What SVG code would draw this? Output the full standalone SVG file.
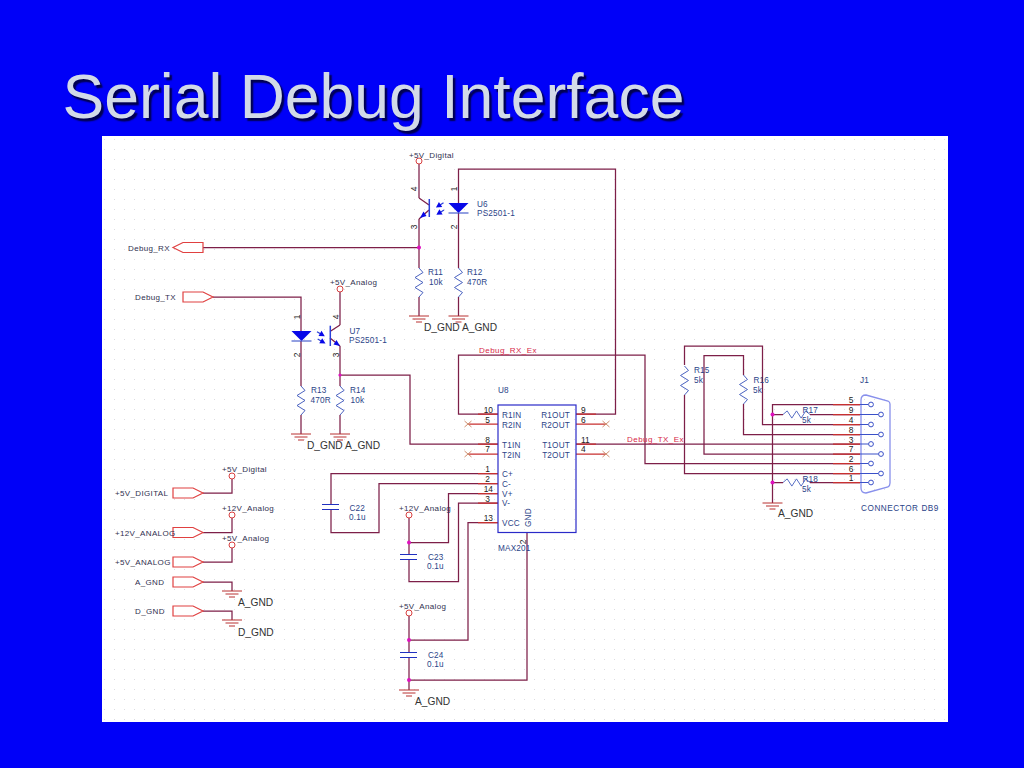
<svg xmlns="http://www.w3.org/2000/svg" width="1024" height="768" viewBox="0 0 1024 768">
<style>
text{font-family:"Liberation Sans",Arial,sans-serif}
.t{font-size:8px;fill:#303050;letter-spacing:.35px}
.b{font-size:8.2px;fill:#2b4488;letter-spacing:.2px}
.p{font-size:8.4px;fill:#222}
.g{font-size:10.2px;fill:#333}
.r{font-size:8px;fill:#d82848;letter-spacing:.45px}
.w{fill:none;stroke:#7d1f48;stroke-width:1.25}
.s{fill:none;stroke:#c83030;stroke-width:1.25}
.bl{fill:none;stroke:#3a50c8;stroke-width:1.1}
.x{fill:none;stroke:#d09070;stroke-width:1}
.res{fill:none;stroke:#4a62c0;stroke-width:1}
.j{fill:#e010c0}
.pw{fill:none;stroke:#d84040;stroke-width:1}
.gn{fill:none;stroke:#b83030;stroke-width:1}
.port{fill:#fff;stroke:#e04040;stroke-width:1.2}
.cap{fill:none;stroke:#2030c0;stroke-width:1.2}
.d{fill:#0808e8;stroke:none}
.title{font-size:62.5px;fill:#d2dae8;text-shadow:2.5px 2.5px 1.5px #000050}
</style>
<defs>
<pattern id="dots" x="104" y="139" width="10" height="10" patternUnits="userSpaceOnUse"><rect width="1" height="1" fill="#dcdce2"/></pattern>
<path id="res" class="res" d="M0 0L4 4.5L-4 9.5L4 14.5L-4 19.5L4 24.5L0 29"/>
<path id="gnd" class="gn" d="M-10 0H10M-6.5 3H6.5M-3 6H3"/>
<path id="prt" class="port" d="M0-5H20L30 0L20 5H0Z"/>
<circle id="pwr" class="pw" r="3"/>
<path id="capa" class="cap" d="M-8.5 0H8.5M-8.5 5H8.5"/>
<path id="xm" class="x" d="M-3.5-3L3.5 3M-3.5 3L3.5-3"/>
<g id="led"><path class="d" d="M-10 0H10L0 10Z"/><path class="bl" d="M-10 10H10"/></g>
<g id="ph"><path d="M0 0H6" fill="none" stroke="#2a3fd8" stroke-width="1.3"/><path class="d" d="M9 0L3.5-3L3.5 3Z"/></g>
</defs>
<rect width="1024" height="768" fill="#0000f8"/>
<rect x="102" y="136" width="846" height="586" fill="#fff"/>
<rect x="102" y="136" width="846" height="586" fill="url(#dots)"/>
<text class="title" x="62.5" y="118">Serial Debug Interface</text>

<g id="connectors">
<path class="w" d="M203 247.5H419M419 164V198M419 219V268M419 297V316"/>
<path class="w" d="M458.5 203V169H615.5V414H576M458.5 213V268M458.5 297V316"/>
<path class="w" d="M213 297H301V331M301 341V386M301 415V434"/>
<path class="w" d="M340 292V325M340 346V386M340 415V434M340 375H410V444H498"/>
<path class="w" d="M498 414H458.5V355H645V463.5H860"/>
<path class="w" d="M576 444H860"/>
<path class="w" d="M498 473.5H331V504M331 510V532.5H379V483.5H498"/>
<path class="w" d="M409 518V554M409 559V581.5H458.5V503H498M409 542.5H448.5V493.5H498"/>
<path class="w" d="M409 616V652M409 657V690M409 640H468V522.5H498M409 680H527V532"/>
<path class="w" d="M203 493H232V479M203 532.5H232V518M203 562H232V548M203 582H232V591M203 611H232V620"/>
<path class="w" d="M684.5 365V346H762.5V424.5H860M684.5 395V473.5H860M743.5 375V355.5H704V454H860M743.5 404V434.5H860"/>
<path class="w" d="M860 404.5H772.5V503M772.5 414.5H783M810 414.5H860M772.5 482.5H783M810 482.5H860"/>
<path class="s" d="M478 414H498M478 424H498M478 444H498M478 454H498M478 473.5H498M478 483.5H498M478 493.5H498M478 503H498M478 522.5H498M576 414H596M576 424H596M576 444H596M576 454H596M833 404.5H860M833 414.5H860M833 424.5H860M833 434.5H860M833 444H860M833 454H860M833 463.5H860M833 473.5H860M833 482.5H860"/>
<path class="s" d="M468 424H478M468 454H478M596 424H606M596 454H606"/>
<circle class="j" cx="419" cy="247.5" r="2"/>
<circle class="j" cx="340" cy="375" r="1.6"/>
<circle class="j" cx="409" cy="542.5" r="2"/>
<circle class="j" cx="409" cy="640" r="2"/>
<circle class="j" cx="409" cy="680" r="2"/>
<circle class="j" cx="772.5" cy="414.5" r="2"/>
<circle class="j" cx="772.5" cy="482.5" r="2"/>
</g>

<g id="Debug_RX"><use href="#prt" transform="translate(203 247.5) scale(-1 1)"/><text class="t" x="128" y="251">Debug_RX</text></g>
<g id="Debug_TX"><use href="#prt" transform="translate(183 297)"/><text class="t" x="135" y="300">Debug_TX</text></g>
<g id="P5V_DIGITAL"><use href="#prt" transform="translate(173 493)"/><text class="t" x="115" y="496">+5V_DIGITAL</text></g>
<g id="P12V_ANALOG"><use href="#prt" transform="translate(173 532.5)"/><text class="t" x="115" y="535.5">+12V_ANALOG</text></g>
<g id="P5V_ANALOG"><use href="#prt" transform="translate(173 562)"/><text class="t" x="115" y="565">+5V_ANALOG</text></g>
<g id="A_GND_port"><use href="#prt" transform="translate(173 582)"/><text class="t" x="135" y="585">A_GND</text></g>
<g id="D_GND_port"><use href="#prt" transform="translate(173 611)"/><text class="t" x="135" y="614">D_GND</text></g>

<g id="pwr_u6"><use href="#pwr" x="419" y="161"/><text class="t" x="409" y="158">+5V_Digital</text></g>
<g id="pwr_u7"><use href="#pwr" x="340" y="289"/><text class="t" x="330" y="285">+5V_Analog</text></g>
<g id="pwr_a"><use href="#pwr" x="232" y="476"/><text class="t" x="222" y="472">+5V_Digital</text></g>
<g id="pwr_b"><use href="#pwr" x="232" y="515"/><text class="t" x="222" y="511">+12V_Analog</text></g>
<g id="pwr_c"><use href="#pwr" x="232" y="545"/><text class="t" x="222" y="541">+5V_Analog</text></g>
<g id="pwr_d"><use href="#pwr" x="409" y="515"/><text class="t" x="399" y="511">+12V_Analog</text></g>
<g id="pwr_e"><use href="#pwr" x="409" y="613"/><text class="t" x="399" y="609">+5V_Analog</text></g>

<g id="U6">
<path class="w" d="M419 198L429 205M429 210L419 219"/>
<path d="M429.3 199V217" fill="none" stroke="#2a3fd8" stroke-width="1.5"/>
<path class="d" d="M420 218L426.5 216L423.5 211.5Z"/>
<use href="#ph" transform="translate(443.5 202.7) rotate(147)"/><use href="#ph" transform="translate(444 210) rotate(148)"/>
<use href="#led" x="458.5" y="203"/>
<text class="b" x="477" y="206.5">U6</text><text class="b" x="477" y="215.5">PS2501-1</text>
<text class="p" transform="translate(417 189) rotate(-90)" text-anchor="middle">4</text>
<text class="p" transform="translate(417 227) rotate(-90)" text-anchor="middle">3</text>
<text class="p" transform="translate(457 189) rotate(-90)" text-anchor="middle">1</text>
<text class="p" transform="translate(457 227) rotate(-90)" text-anchor="middle">2</text>
</g>
<g id="U7">
<use href="#led" x="301.5" y="331"/>
<path class="w" d="M340 325L330 331.5M330 338L340 346"/>
<path d="M330.3 325.7V346" fill="none" stroke="#2a3fd8" stroke-width="1.5"/>
<path class="d" d="M340 346L333.5 344.5L336.5 340Z"/>
<use href="#ph" transform="translate(317 331.7) rotate(30)"/><use href="#ph" transform="translate(317.7 339) rotate(30)"/>
<text class="b" x="349.5" y="334">U7</text><text class="b" x="349" y="343">PS2501-1</text>
<text class="p" transform="translate(299.5 317) rotate(-90)" text-anchor="middle">1</text>
<text class="p" transform="translate(299.5 355) rotate(-90)" text-anchor="middle">2</text>
<text class="p" transform="translate(338.5 317) rotate(-90)" text-anchor="middle">4</text>
<text class="p" transform="translate(338.5 355) rotate(-90)" text-anchor="middle">3</text>
</g>

<g id="R11"><use href="#res" x="419" y="268"/><text class="b" x="428" y="275">R11</text><text class="b" x="429" y="285">10k</text></g>
<g id="R12"><use href="#res" x="458.5" y="268"/><text class="b" x="467" y="275">R12</text><text class="b" x="467" y="285">470R</text></g>
<g id="R13"><use href="#res" x="301" y="386"/><text class="b" x="311" y="393">R13</text><text class="b" x="310.5" y="403">470R</text></g>
<g id="R14"><use href="#res" x="340" y="386"/><text class="b" x="350" y="393">R14</text><text class="b" x="350.5" y="403">10k</text></g>
<g id="R15"><use href="#res" x="684.5" y="366"/><text class="b" x="694" y="373">R15</text><text class="b" x="694" y="383">5k</text></g>
<g id="R16"><use href="#res" x="743.5" y="375"/><text class="b" x="753.5" y="383">R16</text><text class="b" x="753" y="393">5k</text></g>
<g id="R17"><use href="#res" transform="translate(783 414.5) rotate(-90) scale(.9 .93)"/><text class="b" x="802.5" y="413">R17</text><text class="b" x="802" y="423">5k</text></g>
<g id="R18"><use href="#res" transform="translate(783 482.5) rotate(-90) scale(.9 .93)"/><text class="b" x="802.5" y="481.5">R18</text><text class="b" x="802" y="491.5">5k</text></g>

<g id="C22"><use href="#capa" x="330.5" y="504.5"/><text class="b" x="349.5" y="511">C22</text><text class="b" x="349" y="520">0.1u</text></g>
<g id="C23"><use href="#capa" x="408.5" y="554.5"/><text class="b" x="428" y="560">C23</text><text class="b" x="427" y="569">0.1u</text></g>
<g id="C24"><use href="#capa" x="408.5" y="652.5"/><text class="b" x="428" y="658">C24</text><text class="b" x="427" y="667">0.1u</text></g>

<g id="GND_R11"><use href="#gnd" x="419" y="316"/></g>
<g id="GND_R12"><use href="#gnd" x="458.5" y="316"/><text class="g" x="424" y="331">D_GND A_GND</text></g>
<g id="GND_R13"><use href="#gnd" x="301" y="434"/></g>
<g id="GND_R14"><use href="#gnd" x="340" y="434"/><text class="g" x="307" y="449">D_GND A_GND</text></g>
<g id="GND_A"><use href="#gnd" x="232" y="591"/><text class="g" x="238" y="606">A_GND</text></g>
<g id="GND_D"><use href="#gnd" x="232" y="620"/><text class="g" x="238" y="635.5">D_GND</text></g>
<g id="GND_C24"><use href="#gnd" x="409" y="690"/><text class="g" x="415" y="705">A_GND</text></g>
<g id="GND_J1"><use href="#gnd" x="772.5" y="503"/><text class="g" x="778" y="517">A_GND</text></g>

<g id="U8">
<rect x="498" y="405" width="78" height="127.5" fill="none" stroke="#2a2ac8" stroke-width="1.2"/>
<text class="b" x="498" y="393">U8</text>
<text class="b" x="498" y="551">MAX201</text>
<text class="b" x="502" y="418">R1IN</text><text class="b" x="502" y="428">R2IN</text><text class="b" x="502" y="448">T1IN</text><text class="b" x="502" y="457.5">T2IN</text>
<text class="b" x="502" y="477">C+</text><text class="b" x="502" y="487">C-</text><text class="b" x="502" y="497">V+</text><text class="b" x="502" y="506">V-</text><text class="b" x="502" y="526">VCC</text>
<text class="b" x="570" y="418" text-anchor="end">R1OUT</text><text class="b" x="570" y="428" text-anchor="end">R2OUT</text><text class="b" x="570" y="448" text-anchor="end">T1OUT</text><text class="b" x="570" y="457.5" text-anchor="end">T2OUT</text>
<text class="b" transform="translate(531 527) rotate(-90)">GND</text>
<text class="p" x="493" y="413" text-anchor="end">10</text><text class="p" x="490" y="422.5" text-anchor="end">5</text><text class="p" x="490" y="442.5" text-anchor="end">8</text><text class="p" x="490" y="452" text-anchor="end">7</text>
<text class="p" x="490" y="472" text-anchor="end">1</text><text class="p" x="490" y="482" text-anchor="end">2</text><text class="p" x="493" y="492" text-anchor="end">14</text><text class="p" x="490" y="501.5" text-anchor="end">3</text><text class="p" x="493" y="521" text-anchor="end">13</text>
<text class="p" x="581" y="413">9</text><text class="p" x="581" y="422.5">6</text><text class="p" x="581" y="442.5">11</text><text class="p" x="581" y="451.5">4</text>
<text class="p" transform="translate(525.5 542) rotate(-90)" text-anchor="middle">2</text>
<use href="#xm" x="468" y="424"/><use href="#xm" x="468" y="454"/><use href="#xm" x="606" y="424"/><use href="#xm" x="606" y="454"/>
</g>

<text class="r" x="479" y="353">Debug_RX_Ex</text>
<text class="r" x="627" y="442">Debug_TX_Ex</text>

<g id="J1">
<path fill="none" stroke="#8890ec" stroke-width="1.3" d="M866 395L888 401Q890 402 890 404V483Q890 486 888 487L866 493Q861 493 861 488V400Q861 395 866 395Z"/>
<path class="bl" d="M860 404.5H868.5M860 414.5H878.5M860 424.5H868.5M860 434.5H878.5M860 444H868.5M860 454H878.5M860 463.5H868.5M860 473.5H878.5M860 482.5H868.5"/>
<g fill="#fff" stroke="#3a50c8" stroke-width="1"><circle cx="871" cy="404.5" r="2.4"/><circle cx="881" cy="414.5" r="2.4"/><circle cx="871" cy="424.5" r="2.4"/><circle cx="881" cy="434.5" r="2.4"/><circle cx="871" cy="444" r="2.4"/><circle cx="881" cy="454" r="2.4"/><circle cx="871" cy="463.5" r="2.4"/><circle cx="881" cy="473.5" r="2.4"/><circle cx="871" cy="482.5" r="2.4"/></g>
<g text-anchor="middle"><text class="p" x="851" y="403">5</text><text class="p" x="851" y="413">9</text><text class="p" x="851" y="423">4</text><text class="p" x="851" y="433">8</text><text class="p" x="851" y="442.5">3</text><text class="p" x="851" y="452">7</text><text class="p" x="851" y="462">2</text><text class="p" x="851" y="472">6</text><text class="p" x="851" y="481">1</text></g>
<text class="b" x="860" y="383">J1</text>
<text class="b" x="861" y="510.5" style="letter-spacing:.55px">CONNECTOR DB9</text>
</g>
</svg>
